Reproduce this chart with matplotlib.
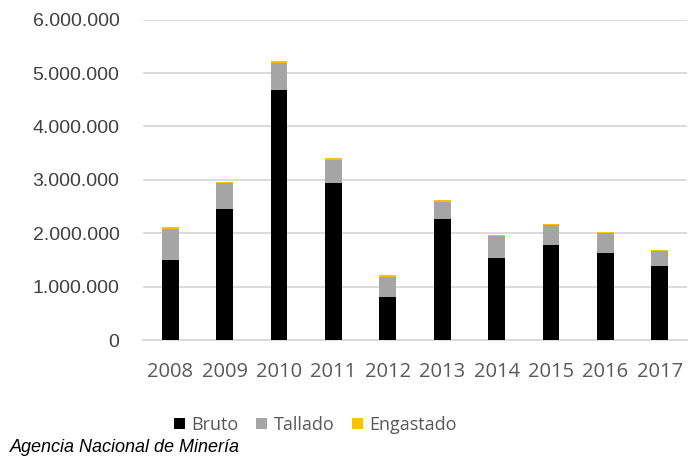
import numpy as np
import matplotlib.pyplot as plt
from matplotlib.ticker import FuncFormatter

years = ['2008', '2009', '2010', '2011', '2012', '2013', '2014', '2015', '2016', '2017']
bruto = [1500000, 2450000, 4690000, 2945000, 800000, 2260000, 1540000, 1785000, 1635000, 1390000]
tallado = [585000, 485000, 500000, 430000, 385000, 330000, 410000, 365000, 365000, 280000]
engastado = [35000, 15000, 30000, 35000, 25000, 30000, 10000, 20000, 20000, 20000]

fig = plt.figure(figsize=(6.95, 4.57), dpi=100)
ax = fig.add_axes([0.2058, 0.256, 0.7827, 0.701])

x = np.arange(len(years))
w = 0.31
b1 = np.array(bruto)
b2 = b1 + np.array(tallado)
ax.bar(x, bruto, w, color='#000000', label='Bruto', zorder=3)
ax.bar(x, tallado, w, bottom=b1, color='#a5a5a5', label='Tallado', zorder=3)
ax.bar(x, engastado, w, bottom=b2, color='#ffc000', label='Engastado', zorder=3)

ax.set_xlim(-0.5, len(years) - 0.5)
ax.set_ylim(0, 6000000)
ax.set_yticks(np.arange(0, 6000001, 1000000))
ax.yaxis.set_major_formatter(FuncFormatter(lambda v, p: '{:,.0f}'.format(v).replace(',', '.')))
ax.grid(axis='y', color='#d9d9d9', linewidth=1.3, zorder=0)
for s in ['top', 'right', 'left']:
    ax.spines[s].set_visible(False)
ax.spines['bottom'].set_color('#d9d9d9')
ax.spines['bottom'].set_linewidth(1.3)
ax.tick_params(axis='y', length=0, pad=17, labelsize=14, labelcolor='#404040')
ax.tick_params(axis='x', length=0, pad=16, labelcolor='#595959')
for lab in ax.get_yticklabels():
    lab.set_family('Liberation Sans')
ax.set_xticks(x)
ax.set_xticklabels(years, family='Open Sans', fontsize=14.5)

leg = fig.legend(loc='center', bbox_to_anchor=(0.454, 0.07), ncol=3, frameon=False,
                 prop={'family': 'Open Sans', 'size': 13}, handlelength=0.6, handleheight=0.6,
                 handletextpad=0.35, columnspacing=1.0)
for t in leg.get_texts():
    t.set_color('#595959')

fig.text(0.014, 0.011, 'Agencia Nacional de Minería', family='Liberation Sans', style='italic',
         fontsize=13, color='#000000', va='baseline')

fig.savefig('out.png', dpi=100)
